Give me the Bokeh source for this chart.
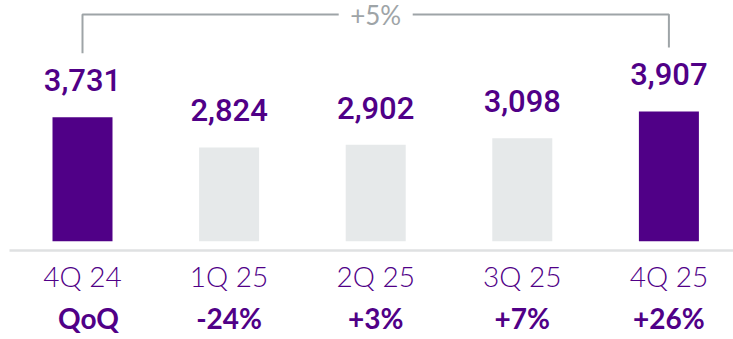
from bokeh.plotting import figure
from bokeh.models import Range1d, ColumnDataSource
from bokeh.core.properties import value
from bokeh.embed import file_html
from bokeh.resources import INLINE

# Quarterly figures
categories = ["4Q 24", "1Q 25", "2Q 25", "3Q 25", "4Q 25"]
revenue = [3731, 2824, 2902, 3098, 3907]
value_labels = ["3,731", "2,824", "2,902", "3,098", "3,907"]
qoq_labels = ["QoQ", "-24%", "+3%", "+7%", "+26%"]
highlight = [True, False, False, False, True]
yoy_label = "+5%"

PURPLE = "#500087"
LIGHT = "#e6e9ea"
RULE = "#dfe1e2"
BRACKET = "#9ea4a7"

W, H = 733, 339
STEP = 146.6          # pixels between bar centres
FIRST = 82.0          # pixel x of the first bar centre
ZERO_PX = 240.7       # pixel y (from top) of the value axis zero
PX_PER_UNIT = 0.0332  # vertical pixels per unit of value
VPP = 1.0 / PX_PER_UNIT

idx = list(range(len(categories)))

p = figure(
    width=W, height=H, output_backend="svg", toolbar_location=None,
    x_range=Range1d(-FIRST / STEP, (W - FIRST) / STEP),
    y_range=Range1d(-(H - ZERO_PX) * VPP, ZERO_PX * VPP),
    x_axis_type=None, y_axis_type=None,
    min_border=0, outline_line_color=None, background_fill_color="white",
    border_fill_color="white",
)
p.grid.visible = False

src = ColumnDataSource(dict(
    x=idx,
    top=revenue,
    color=[PURPLE if h else LIGHT for h in highlight],
    vlabel=value_labels,
    cat=categories,
    qoq=qoq_labels,
    qoq_dx=[6, 0, 0, 0, 0],
))

# bars
p.vbar(x="x", top="top", bottom=0, width=60 / STEP, fill_color="color",
       line_color=None, source=src)

# baseline rule under the bars
rule_y = -9.3 * VPP
p.line(x=[(9 - FIRST) / STEP, (W - FIRST) / STEP], y=[rule_y, rule_y],
       line_color=RULE, line_width=2.5)

# value labels above bars
p.text(x="x", y="top", text="vlabel", source=src, text_align="center",
       text_baseline="alphabetic", y_offset=-37,
       text_font=value("Roboto Medium"), text_font_size="31px",
       text_color=PURPLE)

# category labels
p.text(x="x", y=0, text="cat", source=src, text_align="center",
       text_baseline="alphabetic", y_offset=34.5,
       text_font=value("Lato Light"), text_font_size="28px",
       text_color=PURPLE)

# quarter-on-quarter change row
p.text(x="x", y=0, text="qoq", source=src, text_align="center",
       text_baseline="alphabetic", y_offset=76.5, x_offset="qoq_dx",
       text_font=value("Lato"), text_font_style="bold",
       text_font_size="28px", text_color=PURPLE)

# year-on-year bracket between first and last quarter
first, last = idx[0], idx[-1]
mid = (first + last) / 2
top_y = max(revenue) + 97 * VPP
gap = 37 / STEP
p.line(x=[first, first, mid - gap], y=[revenue[0] + 64 * VPP, top_y, top_y],
       line_color=BRACKET, line_width=2)
p.line(x=[mid + gap, last, last], y=[top_y, top_y, revenue[-1] + 64 * VPP],
       line_color=BRACKET, line_width=2)
p.text(x=[mid], y=[top_y], text=[yoy_label], text_align="center",
       text_baseline="middle", y_offset=1,
       text_font=value("Lato"), text_font_size="26px", text_color=BRACKET)

open("out.html", "w").write(file_html(p, INLINE))
